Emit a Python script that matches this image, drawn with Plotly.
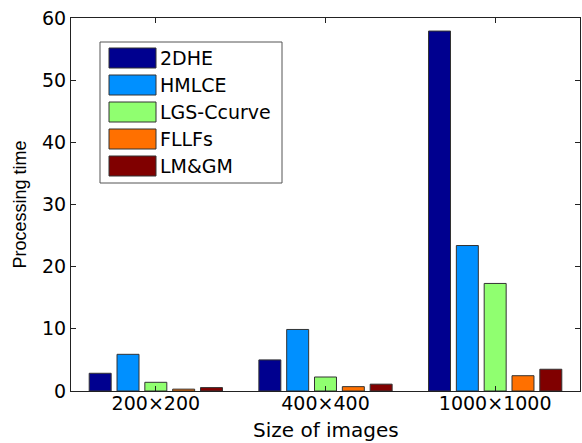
import plotly.graph_objects as go

categories = ["200×200", "400×400", "1000×1000"]
series_names = ["2DHE", "HMLCE", "LGS-Ccurve", "FLLFs", "LM&GM"]
v_2dhe = [2.85, 5.0, 57.9]
v_hmlce = [5.9, 9.9, 23.4]
v_lgs = [1.4, 2.25, 17.3]
v_fllf = [0.3, 0.7, 2.46]
v_lmgm = [0.55, 1.1, 3.5]
colors = ["#00008F", "#0090FF", "#90FF70", "#FF7000", "#800000"]

values = [v_2dhe, v_hmlce, v_lgs, v_fllf, v_lmgm]

W, H = 582, 443
L, R, T, B = 71, 580, 18, 391

fig = go.Figure()
for name, vals, col in zip(series_names, values, colors):
    fig.add_trace(go.Bar(x=categories, y=vals, name=name, marker_color=col,
                         marker_line=dict(color="#333333", width=1), showlegend=False))

def px(x):
    return (x - L) / (R - L)

def py(y):
    return (B - y) / (B - T)

shapes = []
annotations = []
# legend box
shapes.append(dict(type="rect", xref="paper", yref="paper", x0=px(100), x1=px(282),
                   y0=py(183), y1=py(42), line=dict(color="#555555", width=1),
                   fillcolor="white", layer="above"))
ys = [58, 85, 112, 139, 166]
for name, col, yc in zip(series_names, colors, ys):
    shapes.append(dict(type="rect", xref="paper", yref="paper", x0=px(109), x1=px(156),
                       y0=py(yc + 10), y1=py(yc - 10), line=dict(color="#333333", width=1),
                       fillcolor=col, layer="above"))
    annotations.append(dict(xref="paper", yref="paper", x=px(158), y=py(yc), text=name,
                            showarrow=False, xanchor="left", yanchor="middle",
                            font=dict(family="DejaVu Sans", size=19, color="black")))

# axis titles as annotations for exact placement
annotations.append(dict(xref="paper", yref="paper", x=px(325.5), y=py(430), text="Size of images",
                        showarrow=False, xanchor="center", yanchor="middle",
                        font=dict(family="DejaVu Sans", size=20, color="black")))
annotations.append(dict(xref="paper", yref="paper", x=px(19), y=py(204.5), text="Processing time",
                        showarrow=False, xanchor="center", yanchor="middle", textangle=-90,
                        font=dict(family="Liberation Sans", size=18, color="black")))

fig.update_layout(
    width=W, height=H,
    margin=dict(l=L, r=W - R, t=T, b=H - B),
    paper_bgcolor="white", plot_bgcolor="white",
    barmode="group", bargap=0.18, bargroupgap=0.21,
    shapes=shapes, annotations=annotations,
    xaxis=dict(type="category", range=[-0.5, 2.5], showline=True, linecolor="#222222",
               mirror="ticks", ticks="inside", ticklen=5, tickcolor="#222222",
               ticklabelstandoff=-5,
               tickfont=dict(family="DejaVu Sans", size=19, color="black")),
    yaxis=dict(range=[0, 60], dtick=10, showline=True, linecolor="#222222",
               mirror="ticks", ticks="inside", ticklen=5, tickcolor="#222222",
               showgrid=False, zeroline=False,
               tickfont=dict(family="DejaVu Sans", size=19, color="black")),
)

fig.write_html("out.html", config={"displayModeBar": False},
               post_script="document.body.style.margin='0';")
